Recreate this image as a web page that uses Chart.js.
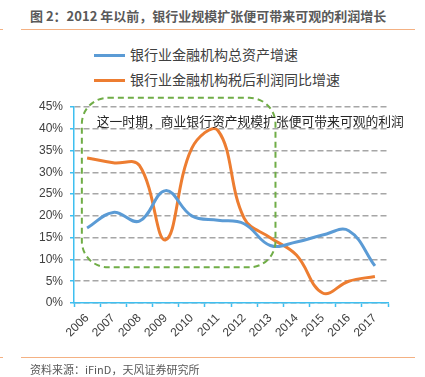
<!DOCTYPE html>
<html>
<head>
<meta charset="utf-8">
<script src="https://cdn.jsdelivr.net/npm/chart.js@4/dist/chart.umd.min.js"></script>
<style>
  body { margin: 0; background: #fff; }
  #wrap { position: relative; width: 425px; height: 377px; overflow: hidden; }
  #myChart { position: absolute; left: 0; top: 0; }
  .title { position: absolute; left: 30px; top: 6px; font: bold 13px "Noto Sans CJK SC", sans-serif; color: #595959; white-space: nowrap; }
  .rule { position: absolute; height: 1px; background: #f4b183; }
  .source { position: absolute; left: 30px; top: 361px; font: 11px "Noto Sans CJK SC", sans-serif; color: #595959; white-space: nowrap; }
  .legend { position: absolute; left: 94px; top: 44px; font: 14px "Noto Sans CJK SC", sans-serif; color: #404040; }
  .legend div { height: 25px; line-height: 20px; white-space: nowrap; }
  .legend span { display: inline-block; width: 31px; height: 3px; vertical-align: middle; margin-right: 5px; position: relative; top: -1px; }
</style>
</head>
<body>
<div id="wrap">
  <div class="title">图 2：2012 年以前，银行业规模扩张便可带来可观的利润增长</div>
  <div class="rule" style="left:0;width:3px;top:29px"></div>
  <div class="rule" style="left:21px;width:394px;top:29px"></div>
  <div class="legend" id="legend"></div>
  <canvas id="myChart" width="425" height="377"></canvas>
  <div class="rule" style="left:0;width:3px;top:357px"></div>
  <div class="rule" style="left:21px;width:394px;top:357px"></div>
  <div class="source">资料来源：iFinD，天风证券研究所</div>
</div>
<script>
// 数据（从原图读取的估计值，%）
const years = ['2006', '2007', '2008', '2009', '2010', '2011', '2012', '2013', '2014', '2015', '2016', '2017'];
const assetGrowth = [17.2, 20.8, 18.8, 25.8, 20.0, 19.0, 18.2, 13.2, 14.0, 15.6, 16.6, 8.5];
const profitGrowth = [33.3, 32.2, 31.6, 14.5, 35.5, 39.6, 19.5, 15.0, 11.0, 2.3, 5.0, 6.1];
const seriesNames = ['银行业金融机构总资产增速', '银行业金融机构税后利润同比增速'];
const seriesColors = ['#5b9bd5', '#ed7d31'];
const yMax = 45;
const yStep = 5;

// 注释框（用坐标轴的数值表示：类目序号 / 百分比）
const noteText = '这一时期，商业银行资产规模扩张便可带来可观的利润';
const noteBox = { xFrom: -0.2, xTo: 7.2, yFrom: 8.2, yTo: 47.1 };
const notePos = { x: 0.37, y: 41.7 };

const axisBlue = '#3fbff0';

// 图例
const legend = document.getElementById('legend');
seriesNames.forEach((name, i) => {
    const row = document.createElement('div');
    row.innerHTML = '<span style="background:' + seriesColors[i] + '"></span>' + name;
    legend.appendChild(row);
});

const periodBox = {
    id: 'periodBox',
    afterDraw(chart) {
        const ctx = chart.ctx;
        const x = chart.scales.x;
        const y = chart.scales.y;
        const l = x.getPixelForValue(noteBox.xFrom);
        const r = x.getPixelForValue(noteBox.xTo);
        const t = y.getPixelForValue(noteBox.yTo);
        const b = y.getPixelForValue(noteBox.yFrom);
        const rad = 26;
        ctx.save();
        ctx.strokeStyle = '#70ad47';
        ctx.lineWidth = 2;
        ctx.setLineDash([6, 4]);
        ctx.beginPath();
        ctx.moveTo(l + rad, t);
        ctx.arcTo(r, t, r, b, rad);
        ctx.arcTo(r, b, l, b, rad);
        ctx.arcTo(l, b, l, t, rad);
        ctx.arcTo(l, t, r, t, rad);
        ctx.closePath();
        ctx.stroke();
        ctx.setLineDash([]);
        ctx.fillStyle = '#262626';
        ctx.font = '12.8px "Noto Sans CJK SC"';
        ctx.textBaseline = 'middle';
        ctx.fillText(noteText, x.getPixelForValue(notePos.x), y.getPixelForValue(notePos.y));
        ctx.restore();
    }
};

new Chart(document.getElementById('myChart').getContext('2d'), {
    type: 'line',
    data: {
        labels: years,
        datasets: [{
            label: seriesNames[0],
            data: assetGrowth,
            borderColor: seriesColors[0],
            borderWidth: 3,
            pointRadius: 0,
            tension: 0.4,
            fill: false
        }, {
            label: seriesNames[1],
            data: profitGrowth,
            borderColor: seriesColors[1],
            borderWidth: 3,
            pointRadius: 0,
            tension: 0.4,
            fill: false
        }]
    },
    options: {
        responsive: false,
        animation: false,
        layout: { padding: { top: 107, right: 37, bottom: 0, left: 0 } },
        plugins: {
            legend: { display: false },
            tooltip: { enabled: false }
        },
        scales: {
            x: {
                offset: true,
                afterFit(scale) { scale.height = 74; },
                grid: {
                    offset: true,
                    drawOnChartArea: false,
                    drawTicks: true,
                    tickLength: 4,
                    tickColor: axisBlue,
                    tickWidth: 1.5
                },
                border: { color: axisBlue, width: 1.5 },
                ticks: {
                    autoSkip: false,
                    minRotation: 45,
                    maxRotation: 45,
                    padding: 4,
                    color: '#404040',
                    font: { family: 'Liberation Sans', size: 12 }
                }
            },
            y: {
                min: 0,
                max: yMax,
                afterFit(scale) { scale.width = 74; },
                grid: {
                    color: '#a6a6a6',
                    lineWidth: 1.5,
                    tickLength: 4,
                    tickColor: axisBlue,
                    tickWidth: 1.5,
                    tickBorderDash: []
                },
                border: { color: axisBlue, width: 1.5, dash: [6, 3] },
                ticks: {
                    stepSize: yStep,
                    padding: 7,
                    color: '#404040',
                    font: { family: 'Liberation Sans', size: 12 },
                    callback: v => v + '%'
                }
            }
        }
    },
    plugins: [periodBox]
});
</script>
</body>
</html>
